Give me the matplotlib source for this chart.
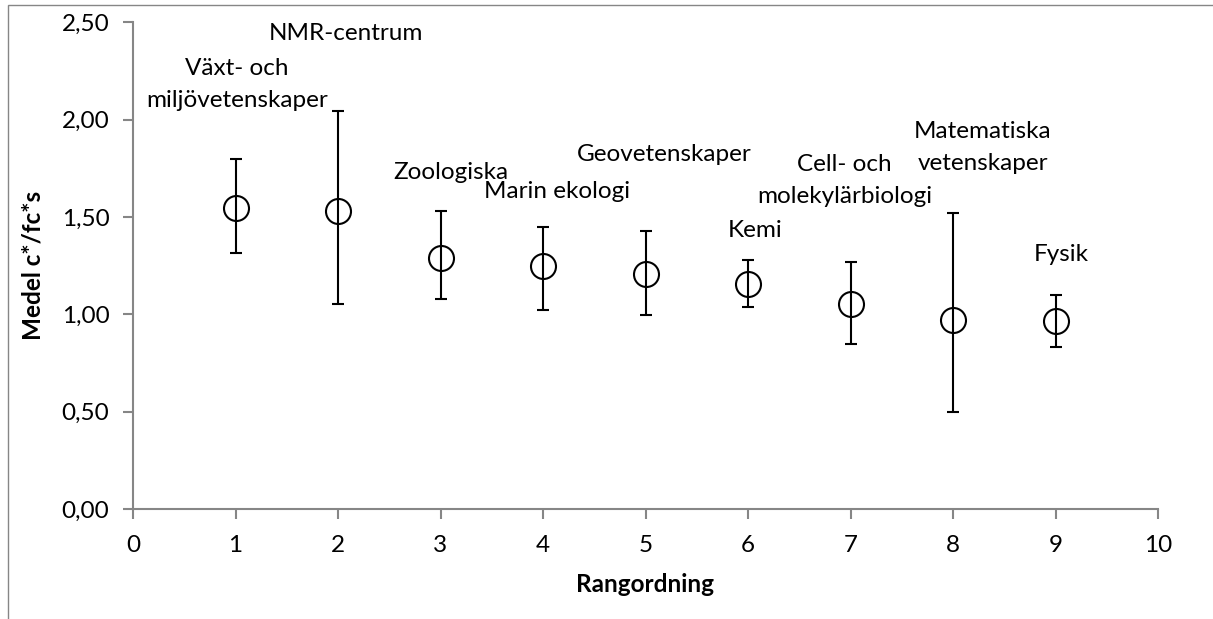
import numpy as np
import matplotlib
matplotlib.use("Agg")
import matplotlib.pyplot as plt
from matplotlib.patches import Rectangle
from matplotlib.ticker import FuncFormatter

# data
rank = [1, 2, 3, 4, 5, 6, 7, 8, 9]
mean = [1.545, 1.529, 1.291, 1.251, 1.210, 1.157, 1.052, 0.970, 0.966]
upper = [1.797, 2.047, 1.533, 1.448, 1.427, 1.281, 1.269, 1.523, 1.100]
lower = [1.313, 1.056, 1.078, 1.025, 0.999, 1.040, 0.848, 0.499, 0.832]
names = ["Växt- och\nmiljövetenskaper", "NMR-centrum", "Zoologiska", "Marin ekologi",
         "Geovetenskaper", "Kemi", "Cell- och\nmolekylärbiologi",
         "Matematiska\nvetenskaper", "Fysik"]

# where Excel put the data labels (data coords)
label_x = [1.015, 2.078, 3.10, 4.137, 5.18, 6.07, 6.94, 8.29, 9.06]
label_y = [2.179, 2.443, 1.728, 1.634, 1.824, 1.429, 1.688, 1.860, 1.310]

plt.rcParams['font.family'] = ['Lato', 'DejaVu Sans']
grey = "#868686"
fs = 17.5

fig = plt.figure(figsize=(12.13, 6.19), dpi=100)
ax = fig.add_axes([133 / 1213, 1 - 509 / 619, (1158 - 133) / 1213, (509 - 22.5) / 619])

# chart border
fig.patches.append(Rectangle((8 / 1213, -0.1), 1.2, 1 - 5 / 619 + 0.1, transform=fig.transFigure,
                             fill=False, edgecolor=grey, linewidth=1.0))

err = [np.array(mean) - np.array(lower), np.array(upper) - np.array(mean)]
ax.errorbar(rank, mean, yerr=err, fmt="o", color="black", mfc="none", mec="black",
            markersize=18, mew=1.5, elinewidth=1.5, capsize=4, capthick=1.5)

for x, y, s in zip(label_x, label_y, names):
    ax.text(x, y, s, ha="center", va="center", fontsize=fs, linespacing=1.65, color="black")

ax.set_xlim(0, 10)
ax.set_ylim(0, 2.5)
ax.set_xticks(range(0, 11))
ax.set_yticks(np.arange(0, 2.51, 0.5))
ax.yaxis.set_major_formatter(FuncFormatter(lambda v, p: f"{v:.2f}".replace(".", ",")))

for side in ["top", "right"]:
    ax.spines[side].set_visible(False)
for side in ["left", "bottom"]:
    ax.spines[side].set_color(grey)
    ax.spines[side].set_linewidth(1.5)
ax.tick_params(direction="out", length=7, width=1.5, color=grey, labelsize=fs, pad=12)
ax.tick_params(axis="y", pad=10)

ax.set_xlabel("Rangordning", fontsize=fs, fontweight="bold", labelpad=12)
ax.set_ylabel("Medel c*/fc*s", fontsize=fs, fontweight="bold", labelpad=12)

fig.savefig("out.png", dpi=100)
